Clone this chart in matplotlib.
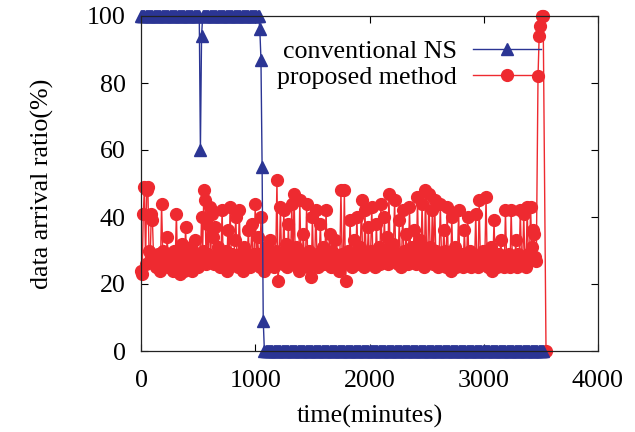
import matplotlib
matplotlib.use('Agg')
import matplotlib.pyplot as plt
import numpy as np

# conventional NS: arrival ratio every 10 minutes
ns_time = list(range(0, 3530, 10))
ns_ratio = ([100] * 52 + [60, 94] + [100] * 50 + [96, 87, 55, 9]
            + [0] * (len(ns_time) - 108))

# proposed method: baseline part every 10 minutes, then the final jump
pm_base = [
    24, 23, 41, 49, 26, 48, 49, 30, 27, 41, 39, 28, 26, 25, 27, 29, 28, 24, 44, 30,
    27, 26, 28, 34, 25, 27, 29, 26, 24, 30, 28, 41, 25, 27, 23, 26, 32, 28, 24, 37,
    27, 29, 26, 28, 31, 24, 27, 33, 26, 29, 25, 28, 27, 40, 30, 48, 45, 26, 38, 29,
    43, 27, 41, 34, 26, 37, 28, 31, 27, 25, 29, 42, 26, 28, 30, 24, 36, 27, 43, 28,
    29, 26, 33, 40, 27, 25, 42, 29, 28, 24, 31, 27, 26, 29, 36, 25, 28, 38, 27, 29,
    44, 26, 34, 29, 25, 40, 28, 27, 24, 31, 27, 26, 28, 33, 29, 27, 25, 28, 30, 51,
    21, 27, 43, 29, 26, 42, 28, 32, 25, 38, 27, 29, 44, 26, 47, 28, 31, 27, 24, 45,
    29, 26, 35, 28, 27, 44, 25, 30, 28, 22, 40, 27, 26, 42, 29, 25, 28, 38, 27, 31,
    26, 29, 42, 27, 28, 35, 25, 30, 27, 29, 33, 26, 28, 24, 27, 48, 29, 26, 48, 21,
    27, 30, 26, 39, 28, 25, 33, 27, 29, 40, 26, 28, 31, 45, 27, 25, 42, 29, 28, 37,
    26, 30, 43, 27, 29, 25, 38, 28, 31, 26, 44, 28, 27, 40, 29, 34, 26, 47, 30, 27,
    28, 32, 45, 27, 29, 26, 39, 28, 25, 42, 30, 27, 35, 29, 26, 43, 28, 31, 27, 36,
    29, 26, 46, 28, 33, 27, 44, 30, 25, 48, 29, 27, 47, 31, 28, 42, 26, 45, 30, 27,
    25, 29, 44, 28, 26, 36, 30, 25, 43, 27, 29, 24, 40, 27, 26, 31, 25, 28, 42, 27,
    26, 29, 25, 36, 28, 27, 40, 26, 30, 25, 28, 29, 27, 41, 26, 25, 45, 28, 27, 30,
    26, 29, 46, 27, 25, 28, 31, 24, 27, 39, 26, 28, 25, 29, 27, 33, 26, 28, 25, 42,
    27, 26, 29, 25, 42, 28, 27, 26, 33, 25, 29, 27, 42, 28, 26, 41, 27, 25, 43, 29,
    27, 43, 31, 36, 35, 28, 27,
]
pm_time = list(range(0, 10 * len(pm_base), 10)) + [3475, 3485, 3495, 3510, 3520, 3545]
pm_ratio = pm_base + [82, 94, 97, 100, 100, 0]

plt.rcParams['font.family'] = ['Liberation Serif', 'DejaVu Serif']
fs = 18.7

fig = plt.figure(figsize=(6.35, 4.32), dpi=100)
ax = fig.add_axes([141 / 635, 81 / 432, 457 / 635, 335 / 432])

blue = '#2b3594'
red = '#ee2a30'
ax.plot(ns_time, ns_ratio, color=blue, lw=1.0, marker='^', ms=8, mec=blue,
        mfc=blue, label='conventional NS', zorder=3, clip_on=False)
ax.plot(pm_time, pm_ratio, color=red, lw=1.0, marker='o', ms=8.5, mec=red,
        mfc=red, label='proposed method', zorder=2, clip_on=False)

ax.set_xlim(0, 4000)
ax.set_ylim(0, 100)
ax.set_xticks([0, 1000, 2000, 3000, 4000])
ax.set_yticks([0, 20, 40, 60, 80, 100])
ax.tick_params(direction='in', top=True, right=True, length=5, width=0.8,
               labelsize=fs)
ax.tick_params(axis='x', pad=14)
ax.tick_params(axis='y', pad=11)
for s in ax.spines.values():
    s.set_linewidth(0.9)
    s.set_color('#222222')
    s.set_zorder(4)

ax.set_xlabel('time(minutes)', fontsize=fs, labelpad=9)
ax.set_ylabel('data arrival ratio(%)', fontsize=fs, labelpad=24)

ax.legend(loc='upper right', bbox_to_anchor=(541 / 635, 1 - 40 / 432),
          bbox_transform=fig.transFigure, frameon=False, markerfirst=False,
          numpoints=1, handlelength=2.6, handletextpad=0.65, fontsize=fs,
          borderpad=0, borderaxespad=0, labelspacing=0.12)

fig.savefig('out.png', dpi=100)
